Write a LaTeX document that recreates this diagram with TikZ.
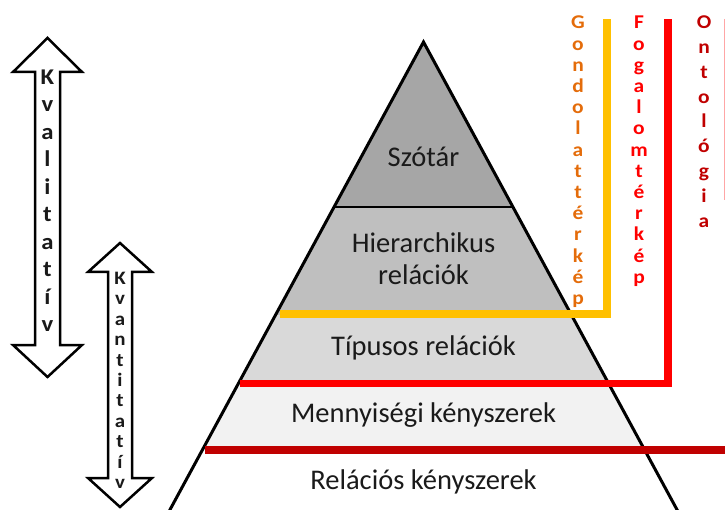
\documentclass[tikz,border=0pt]{standalone}
\usepackage{fontspec}
\setmainfont{Carlito}
\newfontfamily\widefont[FakeStretch=1.1]{Carlito}
\definecolor{gyellow}{HTML}{FFC000}
\definecolor{fred}{HTML}{FF0000}
\definecolor{odred}{HTML}{C00000}
\definecolor{gorange}{HTML}{E46C0A}
\definecolor{layA}{HTML}{A6A6A6}
\definecolor{layB}{HTML}{BFBFBF}
\definecolor{layC}{HTML}{D9D9D9}
\definecolor{layD}{HTML}{F2F2F2}
\definecolor{txt}{HTML}{1A1A1A}
\begin{document}
\begin{tikzpicture}[x=1pt,y=-1pt,
  layertext/.style={font=\fontsize{28.5}{32}\selectfont, text=txt, align=center, inner sep=0pt},
  vletter/.style={anchor=base, inner sep=0pt, font=\widefont\bfseries\fontsize{19.5}{19.5}\selectfont},
  bigletter/.style={anchor=base, inner sep=0pt, font=\widefont\bfseries\fontsize{22.5}{22.5}\selectfont, text=txt},
  midletter/.style={anchor=base, inner sep=0pt, font=\widefont\bfseries\fontsize{19}{19}\selectfont, text=txt},
  blockarrow/.style={draw=black, line width=2.5pt, fill=white, line join=miter},
  pyredge/.style={draw=black, line width=3pt, line join=miter},
  bar/.style={line width=7.5pt, line join=miter, line cap=butt}]
\useasboundingbox (0,0) rectangle (725,510);
\clip (0,0) rectangle (725,510);
% pyramid coordinates
\coordinate (A) at (423.5,42);
\coordinate (L1) at (334.1,207);  \coordinate (R1) at (512.9,207);
\coordinate (L2) at (275.5,315);  \coordinate (R2) at (571.5,315);
\coordinate (L3) at (238.7,383);  \coordinate (R3) at (608.3,383);
\coordinate (L4) at (202.4,450);  \coordinate (R4) at (644.6,450);
\coordinate (L5) at (164.4,520);  \coordinate (R5) at (682.6,520);
% layers
\fill[layA] (A) -- (L1) -- (R1) -- cycle;
\fill[layB] (L1) -- (L2) -- (R2) -- (R1) -- cycle;
\fill[layC] (L2) -- (L3) -- (R3) -- (R2) -- cycle;
\fill[layD] (L3) -- (L4) -- (R4) -- (R3) -- cycle;
\draw[pyredge] (L5) -- (A) -- (R5);
\draw[pyredge, line width=2.5pt] (L1) -- (R1);
% layer texts
\node[layertext] (szotar) at (423.5,157) {Szótár};
\node[layertext] (hier) at (423.5,259) {Hierarchikus\\relációk};
\node[layertext] (tipusos) at (423.5,348) {Típusos relációk};
\node[layertext] (menny) at (423.5,415) {Mennyiségi kényszerek};
\node[layertext] (relacios) at (423.5,482) {Relációs kényszerek};
% coloured bars
\coordinate (ya) at (280,314);   \coordinate (yb) at (607,314);   \coordinate (yc) at (607,19);
\coordinate (ra) at (239.5,383.5); \coordinate (rb) at (668,383.5); \coordinate (rc) at (668,19);
\coordinate (da) at (205,450);   \coordinate (db) at (735,450);
\draw[bar, gyellow] (ya) -- (yb) -- (yc);
\draw[bar, fred] (ra) -- (rb) -- (rc);
\draw[bar, odred] (da) -- (db);
\coordinate (sa) at (724.5,19); \coordinate (sb) at (724.5,200);
\draw[red!35, line width=1pt] (sa) -- (sb);
% vertical labels
\foreach \c [count=\i from 0] in {G,o,n,d,o,l,a,t,t,é,r,k,é,p}
  \node[vletter, text=gorange] (g\i) at (578,{29+21.2*\i}) {\c};
\foreach \c [count=\i from 0] in {F,o,g,a,l,o,m,t,é,r,k,é,p}
  \node[vletter, text=fred] (f\i) at (639,{29+21.2*\i}) {\c};
\foreach \c [count=\i from 0] in {O,n,t,o,l,ó,g,i,a}
  \node[vletter, text=odred] (o\i) at (704,{28.7+24.8*\i}) {\c};
% block arrows
\draw[blockarrow] (47.5,38) -- (82,72) -- (60,72) -- (60,345) -- (82,345) -- (47.5,377)
  -- (13,345) -- (35,345) -- (35,72) -- (13,72) -- cycle;
\draw[blockarrow] (120,243) -- (152,272) -- (132,272) -- (132,478) -- (152,478) -- (120,507)
  -- (88,478) -- (108,478) -- (108,272) -- (88,272) -- cycle;
\foreach \c [count=\i from 0] in {K,v,a,l,i,t,a,t,í,v}
  \node[bigletter] (ql\i) at (47.5,{84.5+27.5*\i}) {\c};
\foreach \c [count=\i from 0] in {K,v,a,n,t,i,t,a,t,í,v}
  \node[midletter] (qn\i) at (120,{284.5+20.4*\i}) {\c};
\end{tikzpicture}
\end{document}
